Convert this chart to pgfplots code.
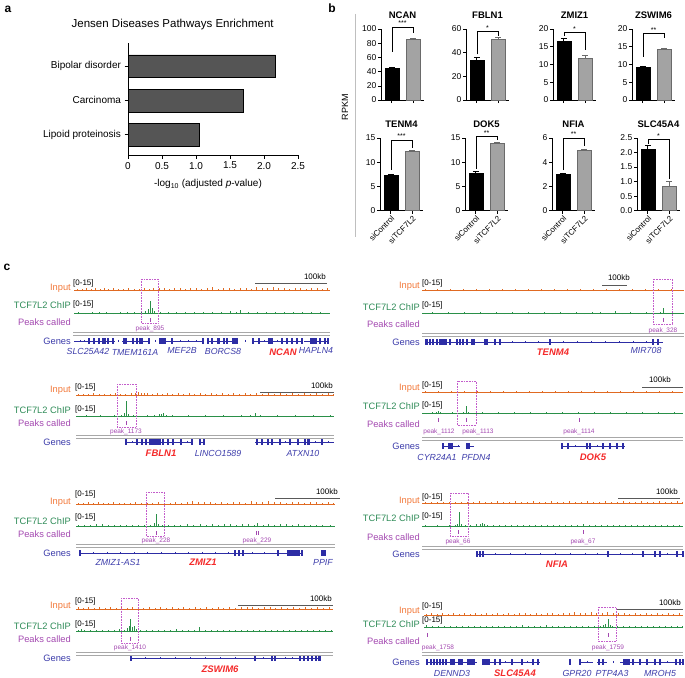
\documentclass[border=0pt]{standalone}
\usepackage{fontspec}
\setmainfont{Liberation Sans}
\usepackage{pgfplots}
\pgfplotsset{compat=1.18}
\definecolor{inpcol}{HTML}{E06A22}
\definecolor{inplab}{HTML}{F27A3C}
\definecolor{chipcol}{HTML}{2A9048}
\definecolor{chiplab}{HTML}{2E8B57}
\definecolor{peakcol}{HTML}{A348B0}
\definecolor{boxcol}{HTML}{C35CCB}
\definecolor{genecol}{HTML}{2D2DA5}
\definecolor{genelab}{HTML}{3C3CAA}
\definecolor{tgtcol}{HTML}{F42A2A}
\definecolor{sepcol}{HTML}{A8A8A8}
\definecolor{barA}{HTML}{555555}
\definecolor{barG}{HTML}{A3A3A3}
\definecolor{barGd}{HTML}{6A6A6A}
\newcommand{\fsL}{\fontsize{9.3}{10}\selectfont}
\newcommand{\fsS}{\fontsize{8}{9}\selectfont}
\newcommand{\fsP}{\fontsize{6.5}{7}\selectfont}
\newcommand{\fsG}{\fontsize{8.8}{10}\selectfont\itshape}
\pgfplotsset{
  trk/.style={scale only axis, height=16pt, ymin=0, ymax=15, hide axis, clip=false, anchor=south west},
  gen/.style={scale only axis, height=8pt, ymin=-1, ymax=1, hide axis, clip=false, anchor=west},
  minib/.style={scale only axis, width=43pt, xmin=0.5, xmax=2.5, ymin=0,
    axis x line*=bottom, axis y line*=left, axis line style={-, line width=0.6pt},
    tick style={black, line width=0.6pt}, tick align=outside, major tick length=3pt,
    xtick={1,2}, anchor=south west, clip=false,
    /pgf/number format/assume math mode=true,
    yticklabel style={font=\fontsize{8.5}{9}\selectfont, inner sep=1.5pt},
    xticklabel style={font=\fontsize{8}{9}\selectfont},
    title style={font=\bfseries\fontsize{9.5}{10}\selectfont, yshift=1pt}},
  barK/.style={ybar, bar width=14pt, fill=black, draw=black, line width=0.5pt,
    error bars/.cd, y dir=plus, y explicit, error bar style={black, line width=0.6pt},
    error mark options={black, line width=0.6pt, mark size=3pt, rotate=90}},
  barW/.style={ybar, bar width=14pt, fill=barG, draw=barGd, line width=0.5pt,
    error bars/.cd, y dir=plus, y explicit, error bar style={barGd, line width=0.6pt},
    error mark options={barGd, line width=0.6pt, mark size=3pt, rotate=90}},
  rot/.style={xticklabels={siControl,siTCF7L2}, xticklabel style={rotate=45, anchor=north east, inner sep=1pt}},
}
\newcommand{\trk}[7]{\begin{axis}[trk, at={(#1pt,-#4pt)}, width=#3pt, xmin=#1, xmax=#2]
 \addplot[line width=1.2pt, #5] coordinates {(#1,0.6)(#2,0.6)};
 \addplot[#5, ycomb, line width=0.7pt] coordinates {#6};
 #7
\end{axis}}
\newcommand{\pk}[1]{\addplot[peakcol, only marks, mark=|, mark size=2pt, mark options={line width=0.6pt}] coordinates {#1};}
\newcommand{\gaxis}[5]{\begin{axis}[gen, at={(#1pt,-#4pt)}, width=#3pt, xmin=#1, xmax=#2] #5 \end{axis}}
\newcommand{\gint}[1]{\addplot[genecol, line width=0.5pt, unbounded coords=jump] coordinates {#1};}
\newcommand{\gexo}[1]{\addplot[genecol, only marks, mark=|, mark size=2.8pt, mark options={line width=1.1pt}] coordinates {#1};}
\newcommand{\gblk}[1]{\addplot[genecol, line width=5.6pt, unbounded coords=jump] coordinates {#1};}
\newcommand{\gstr}[1]{\addplot[genecol, only marks, mark=|, mark size=1.2pt, mark options={line width=0.4pt}] coordinates {#1};}
\newcommand{\stars}[2]{\node[font=\fontsize{7}{7}\selectfont, inner sep=1pt, anchor=south] at (axis cs:1.5,#1) {#2};}
\begin{document}
\begin{tikzpicture}
\useasboundingbox (0pt,0pt) rectangle (685pt,-677pt);
% ---------------- panel a
\begin{axis}[at={(128pt,-155pt)}, anchor=south west, scale only axis, width=170pt, height=112pt,
  xmin=0, xmax=2.5, ymin=0.40, ymax=3.683,
  axis x line*=bottom, axis y line*=left, axis line style={-, line width=0.6pt},
  tick style={black, line width=0.6pt}, tick align=outside, major tick length=3.5pt,
  xtick={0,0.5,1,1.5,2,2.5}, xticklabels={0,0.5,1.0,1.5,2.0,2.5},
  ytick={1,2,3}, yticklabels={Lipoid proteinosis,Carcinoma,Bipolar disorder},
  ticklabel style={font=\fontsize{10}{11}\selectfont}, clip=false]
\addplot[xbar, bar width=22.7pt, fill=barA, draw=black, line width=0.4pt] coordinates {(1.05,1)(1.70,2)(2.17,3)};
\end{axis}
% ---------------- panel b
\begin{axis}[minib, at={(381pt,-100pt)}, height=71pt, ymax=100, ytick={0,20,40,60,80,100}, xticklabels={,,}, title={NCAN}]
\addplot[barK] coordinates {(1,45) +- (0,1.5)};
\addplot[barW] coordinates {(2,85) +- (0,1.5)};
\draw[line width=0.5pt] (axis cs:1,68) |- (axis cs:2,103) -- (axis cs:2,94);
\stars{103}{***}
\end{axis}
\begin{axis}[minib, at={(466pt,-100pt)}, height=71pt, ymax=60, ytick={0,20,40,60}, xticklabels={,,}, title={FBLN1}]
\addplot[barK] coordinates {(1,34) +- (0,2)};
\addplot[barW] coordinates {(2,51) +- (0,2)};
\draw[line width=0.5pt] (axis cs:1,38.5) |- (axis cs:2,57.7) -- (axis cs:2,54.5);
\stars{57.7}{*}
\end{axis}
\begin{axis}[minib, at={(553pt,-100pt)}, height=71pt, ymax=20, ytick={0,5,10,15,20}, xticklabels={,,}, title={ZMIZ1}]
\addplot[barK] coordinates {(1,16.5) +- (0,0.8)};
\addplot[barW] coordinates {(2,11.8) +- (0,0.9)};
\draw[line width=0.5pt] (axis cs:1,18) |- (axis cs:2,19) -- (axis cs:2,14);
\stars{19}{*}
\end{axis}
\begin{axis}[minib, at={(632pt,-100pt)}, height=71pt, ymax=20, ytick={0,5,10,15,20}, xticklabels={,,}, title={ZSWIM6}]
\addplot[barK] coordinates {(1,9.3) +- (0,0.3)};
\addplot[barW] coordinates {(2,14.4) +- (0,0.3)};
\draw[line width=0.5pt] (axis cs:1,12.2) |- (axis cs:2,18.8) -- (axis cs:2,17.5);
\stars{18.8}{**}
\end{axis}
\begin{axis}[minib, rot, at={(380pt,-210.7pt)}, height=72.7pt, ymax=15, ytick={0,5,10,15}, title={TENM4}]
\addplot[barK] coordinates {(1,7.4) +- (0,0.15)};
\addplot[barW] coordinates {(2,12.3) +- (0,0.15)};
\draw[line width=0.5pt] (axis cs:1,8.5) |- (axis cs:2,14.6) -- (axis cs:2,13.0);
\stars{14.6}{***}
\end{axis}
\begin{axis}[minib, rot, at={(465pt,-210.7pt)}, height=72.7pt, ymax=15, ytick={0,5,10,15}, title={DOK5}]
\addplot[barK] coordinates {(1,7.7) +- (0,0.4)};
\addplot[barW] coordinates {(2,14.0) +- (0,0.15)};
\draw[line width=0.5pt] (axis cs:1,8.7) |- (axis cs:2,15.3) -- (axis cs:2,14.5);
\stars{15.3}{**}
\end{axis}
\begin{axis}[minib, rot, at={(552pt,-210.7pt)}, height=72.7pt, ymax=6, ytick={0,2,4,6}, title={NFIA}]
\addplot[barK] coordinates {(1,3.0) +- (0,0.12)};
\addplot[barW] coordinates {(2,5.0) +- (0,0.1)};
\draw[line width=0.5pt] (axis cs:1,3.35) |- (axis cs:2,6.0) -- (axis cs:2,5.3);
\stars{6.0}{**}
\end{axis}
\begin{axis}[minib, rot, at={(637pt,-210.7pt)}, height=72.7pt, ymax=2.5, ytick={0,0.5,1,1.5,2,2.5}, yticklabels={0.0,0.5,1.0,1.5,2.0,2.5}, title={SLC45A4}]
\addplot[barK] coordinates {(1,2.12) +- (0,0.12)};
\addplot[barW] coordinates {(2,0.85) +- (0,0.15)};
\draw[line width=0.5pt] (axis cs:1,2.3) |- (axis cs:2,2.45) -- (axis cs:2,1.1);
\stars{2.45}{*}
\end{axis}
% ---------------- panel c tracks
% NCAN
\trk{74}{330}{256}{291}{inpcol, line width=1.7pt}{(77,2)(82,1.5)(86,3)(91,2)(95,2.5)(100,1.5)(104,3)(108,2)(113,2.5)(118,1.5)(123,2)(128,2.5)(134,2)(139,1.5)(144,2.5)(149,2)(153,3)(159,2.5)(164,3)(169,2)(174,2.5)(180,3)(185,2)(190,2.5)(196,3)(201,2)(207,2.5)(212,3.5)(218,2)(223,2.5)(229,3)(234,2)(240,2.5)(246,3)(251,2)(256,3.5)(262,2.5)(267,3)(273,3.5)(278,2.5)(284,3)(289,2)(295,2.5)(300,3)(306,2)(311,2.5)(317,3)(322,2)(327,2.5)}{}
\trk{74}{330}{256}{314}{chipcol}{(78,1.5)(85,1)(92,2)(99,1.5)(106,2)(113,1)(120,2)(127,1.5)(134,2)(141,1.5)(145,3)(148,5)(150,12)(152,6)(154,2.5)(160,1.5)(168,2)(176,1.5)(185,2)(194,1.5)(203,2)(212,1.5)(221,2)(230,2.5)(236,2)(240,3.5)(248,1.5)(257,2)(266,1.5)(275,2)(284,1.5)(293,2)(302,1.5)(311,2)(320,1.5)(327,1)}{\pk{(150,-5.6)}}
\gaxis{74}{330}{256}{341}{
\gint{(74,0)(115,0)(115,nan)(122,0)(150,0)(150,nan)(159,0)(203,0)(203,nan)(207,0)(238,0)(238,nan)(252,0)(302,0)(302,nan)(304,0)(329,0)}
\gexo{(89,0)(94,0)(99,0)(108,0)(113,0)(133,0)(137,0)(140,0)(142,0)(149,0)(172,0)(203,0)(208,0)(212,0)(224,0)(227,0)(253,0)(259,0)(282,0)(287,0)(292,0)(297,0)(302,0)(320,0)(325,0)(328,0)}
\gblk{(102,0)(106,0)(106,nan)(123,0)(127,0)(127,nan)(159,0)(166,0)(166,nan)(217,0)(220,0)(220,nan)(232,0)(238,0)(238,nan)(268,0)(273,0)(273,nan)(310,0)(317,0)}
\gstr{(80,0)(84,0)(118,0)(155,0)(180,0)(188,0)(196,0)(245,0)(264,0)(277,0)}}
% FBLN1
\trk{76}{334}{258}{396}{inpcol, line width=1.7pt}{(78,1.5)(83,2)(88,1.5)(93,2.5)(99,2)(104,1.5)(110,2)(115,2.5)(120,1.5)(125,2)(131,2.5)(135,3)(138,3.5)(141,3)(144,3)(147,2.5)(152,2)(157,2.5)(162,2)(167,2.5)(172,2)(178,2.5)(183,2)(189,2.5)(194,2)(200,2.5)(205,2)(211,2.5)(216,2)(222,2.5)(228,2)(233,2.5)(239,2)(245,2.5)(250,2)(256,2.5)(262,2)(268,2.5)(274,2)(280,2.5)(286,2)(292,2.5)(298,2)(304,2.5)(310,2)(316,2.5)(322,2)(328,2.5)(333,2)}{}
\trk{76}{334}{258}{417}{chipcol}{(79,1)(86,1.5)(93,1)(100,1.5)(107,1)(114,1.5)(121,2)(124,4)(126,15)(128,3)(133,1.5)(140,1)(147,1.5)(154,2)(159,2.5)(161,3)(163,3.5)(166,2)(172,1.5)(180,1)(188,1.5)(196,1)(205,1.5)(214,1)(223,1.5)(232,1)(241,1.5)(250,1.5)(255,4)(260,1.5)(268,1)(277,1.5)(286,1)(295,1.5)(304,1)(313,1.5)(322,1)(330,1.5)}{\pk{(126,-5.6)}}
\gaxis{76}{334}{258}{442}{
\gint{(126,0)(192,0)(192,nan)(200,0)(204,0)(204,nan)(255,0)(334,0)}
\gexo{(126,0)(137,0)(142,0)(146,0)(163,0)(168,0)(173,0)(181,0)(192,0)(200,0)(204,0)(257,0)(262,0)(268,0)(272,0)(280,0)(290,0)(298,0)(305,0)(322,0)}
\gblk{(149,0)(161,0)(161,nan)(307,0)(310,0)}
\gstr{(132,0)(187,0)(285,0)(315,0)(328,0)}}
% ZMIZ1
\trk{76}{335}{259}{505}{inpcol, line width=1.7pt}{(78,2)(83,1.5)(88,2.5)(93,2)(98,3)(103,2)(108,1.5)(113,2.5)(119,2)(124,1.5)(130,2)(135,2.5)(141,1.5)(147,2)(152,2)(158,2.5)(164,1.5)(170,2)(175,2.5)(181,2)(187,3)(192,3.5)(198,3)(204,2.5)(210,3)(215,2)(221,2.5)(227,2)(233,2.5)(239,3)(245,2)(251,3.5)(256,2.5)(262,3)(268,3.5)(274,2.5)(280,3)(286,2)(292,3)(298,2.5)(304,2)(310,3)(316,2.5)(322,2)(328,2.5)(333,2)}{}
\trk{76}{335}{259}{527}{chipcol}{(78,1.5)(84,2)(90,1.5)(96,2.5)(102,3)(108,2)(114,1.5)(120,2)(126,1.5)(132,2)(138,1.5)(144,2)(150,2)(154,4)(156,12)(158,3)(162,2)(168,1.5)(174,2)(180,1.5)(187,2.5)(193,2)(200,2.5)(206,2)(212,2.5)(218,2)(224,2.5)(230,3)(236,2)(242,2.5)(248,3)(254,2)(257,3.5)(263,2)(268,3)(274,2)(280,2.5)(286,3)(292,2)(298,2.5)(304,1.5)(310,2)(316,1.5)(322,2)(330,1.5)}{\pk{(156,-5.6)(256,-5.6)(258.5,-5.6)}}
\gaxis{76}{335}{259}{553}{
\gint{(80,0)(303,0)(303,nan)(321,0)(326,0)}
\gexo{(80,0)(235,0)(239,0)(243,0)(278,0)(302,0)}
\gblk{(287,0)(300,0)(300,nan)(321,0)(326,0)}
\gstr{(93,0)(107,0)(120,0)(134,0)(147,0)(161,0)(175,0)(188,0)(202,0)(215,0)(228,0)(252,0)(264,0)}}
% ZSWIM6
\trk{76}{333}{257}{610}{inpcol, line width=1.7pt}{(78,2.5)(83,2)(88,2.5)(94,2)(99,2.5)(105,2)(110,2.5)(116,2)(121,2.5)(127,2)(132,2.5)(138,3)(143,2)(149,2.5)(155,2)(160,2.5)(166,2)(172,2.5)(178,2)(183,2.5)(189,2)(195,2.5)(200,2)(206,3)(212,2)(218,3)(223,2)(229,2.5)(235,2)(241,2.5)(247,3)(252,2.5)(258,2)(264,3)(270,2.5)(275,2)(281,2.5)(287,2)(293,3)(299,2)(305,2.5)(311,2)(317,2.5)(323,2)(329,2.5)}{}
\trk{76}{333}{257}{632}{chipcol}{(78,2)(81,3)(84,1.5)(90,2)(96,1.5)(102,2)(108,1.5)(114,2)(119,2.5)(124,2)(127,4)(129,6)(130,12)(132,5)(134,6)(136,3)(140,1.5)(146,2)(152,1.5)(158,2)(164,1.5)(170,2)(176,2.5)(182,2)(188,1.5)(194,2)(199,5)(205,1.5)(211,2)(217,1.5)(223,2)(229,1.5)(235,2)(241,1.5)(247,2)(253,1.5)(259,2)(265,1.5)(271,2)(277,1.5)(283,2)(289,1.5)(295,2)(301,1.5)(307,2)(313,1.5)(319,2)(325,1.5)(331,1.5)}{\pk{(130,-6.5)}}
\gaxis{76}{333}{257}{658}{
\gint{(131,0)(320,0)}
\gexo{(131,0)(255,0)(272,0)(275,0)(300,0)(304,0)(308,0)(312,0)(316,0)}
\gblk{(318,0)(321,0)}
\gstr{(145,0)(160,0)(175,0)(190,0)(205,0)(220,0)(235,0)(263,0)(285,0)(292,0)}}
% TENM4
\trk{422}{684}{262}{291}{inpcol, line width=1.7pt}{(425,1.5)(431,1)(437,1.5)(444,1)(450,1.5)(457,1)(463,1.5)(470,1)(476,1.5)(483,1)(489,1.5)(496,1)(502,1.5)(509,1)(515,1.5)(522,1)(528,1.5)(535,1)(541,1.5)(548,1)(554,1.5)(561,1)(567,1.5)(574,1)(580,1.5)(587,1)(593,1.5)(600,1)(606,1.5)(613,1)(619,1.5)(626,1)(632,1.5)(639,1)(645,1.5)(652,1)(658,1.5)(665,1)(671,1.5)(678,1)}{}
\trk{422}{684}{262}{314}{chipcol}{(425,1)(432,1.5)(440,1)(448,1.5)(456,1)(464,1.5)(472,1)(480,1.5)(488,1)(496,1.5)(504,1)(512,1.5)(520,1)(528,1.5)(536,1)(544,1.5)(552,1)(560,1.5)(568,1)(576,1.5)(584,1)(592,1.5)(600,2)(608,1)(615,2.5)(622,1)(630,1.5)(638,1)(646,1.5)(654,1)(660,1.5)(663,5.5)(666,1)(672,1.5)(680,1)}{\pk{(663,-6)}}
\gaxis{422}{684}{262}{342}{
\gint{(425,0)(663,0)}
\gexo{(430,0)(433,0)(437,0)(450,0)(457,0)(460,0)(463,0)(467,0)(472,0)(474,0)(485,0)(487,0)(495,0)(500,0)(550,0)(653,0)(658,0)}
\gblk{(425,0)(428,0)(428,nan)(439,0)(447,0)}
\gstr{(512,0)(525,0)(538,0)(563,0)(577,0)(591,0)(605,0)(619,0)(633,0)(646,0)}}
% DOK5
\trk{422}{683}{261}{393}{inpcol, line width=1.7pt}{(425,1.5)(432,1)(438,1.5)(445,1)(451,1.5)(458,1)(464,1.5)(471,1)(477,1.5)(484,1)(490,1.5)(497,1)(503,1.5)(510,1)(516,1.5)(523,1)(529,1.5)(536,1)(542,1.5)(549,1)(555,1.5)(562,1)(568,1.5)(575,1)(581,1.5)(588,1)(594,1.5)(601,1)(607,1.5)(614,1)(620,1.5)(627,1)(633,1.5)(640,1)(646,1.5)(653,1)(659,1.5)(666,1)(672,1.5)(679,1)}{}
\trk{422}{683}{261}{414}{chipcol}{(426,1)(432,1.5)(436,2)(438,3)(440,1.5)(446,1)(452,1.5)(458,1)(463,2)(466,7.5)(468,2)(474,1)(482,1.5)(490,1)(498,1.5)(506,1)(514,1.5)(522,1)(530,1.5)(538,1)(546,1.5)(554,1)(562,1.5)(570,1)(578,2)(586,1)(594,1.5)(602,1)(610,1.5)(618,1)(626,1.5)(634,1)(642,1.5)(650,1)(658,1.5)(666,1)(674,1.5)(681,1)}{\pk{(438,-5.6)(466,-5.6)(579,-5.6)}}
\gaxis{422}{683}{261}{446}{
\gint{(443,0)(460,0)(460,nan)(466,0)(474,0)(474,nan)(562,0)(625,0)}
\gexo{(443,0)(562,0)(568,0)(587,0)(590,0)(603,0)(610,0)(617,0)(623,0)}
\gblk{(448,0)(453,0)(453,nan)(466,0)(470,0)}
\gstr{(458,0)(575,0)(597,0)}}
% NFIA
\trk{422}{683}{261}{504}{inpcol, line width=1.7pt}{(425,2)(431,1.5)(437,2)(443,1.5)(449,2)(455,1.5)(461,2)(467,1.5)(473,2)(479,2.5)(485,1.5)(491,2)(497,2.5)(503,1.5)(509,2)(515,2.5)(521,1.5)(527,2)(533,2.5)(539,1.5)(545,2)(551,2.5)(557,1.5)(563,2)(569,2.5)(575,1.5)(581,2)(587,2.5)(593,1.5)(599,2)(605,2.5)(611,1.5)(617,2)(623,2.5)(629,1.5)(635,2)(641,2.5)(647,1.5)(653,2)(659,2.5)(665,1.5)(671,2)(677,2.5)(682,1.5)}{}
\trk{422}{683}{261}{527}{chipcol}{(425,1.5)(431,1)(437,1.5)(443,1)(449,1.5)(455,2)(457,3)(459,14)(461,2.5)(465,1.5)(470,2)(476,2.5)(480,3)(482,3.5)(484,3)(487,2)(493,1.5)(499,2)(505,1.5)(511,2)(517,1.5)(523,2)(529,1.5)(535,2)(541,1.5)(547,2)(553,1.5)(559,2)(565,1.5)(571,2)(577,1.5)(583,2.5)(589,1.5)(595,2)(601,1.5)(607,2)(613,1.5)(619,2)(625,1.5)(631,2)(637,1.5)(643,2)(649,1.5)(655,2)(661,1.5)(667,2)(673,1.5)(679,2)}{\pk{(458,-5)(583,-5)}}
\gaxis{422}{683}{261}{554}{
\gint{(477,0)(684,0)}
\gexo{(477,0)(480,0)(483,0)(608,0)(643,0)(655,0)(660,0)(677,0)(683,0)}
\gstr{(495,0)(510,0)(525,0)(540,0)(555,0)(570,0)(585,0)(597,0)(620,0)(632,0)(667,0)}}
% SLC45A4
\trk{424}{683}{259}{616}{inpcol, line width=1.7pt}{(426,2)(431,2.5)(437,2)(442,2.5)(448,2)(453,2.5)(459,2)(464,2.5)(470,2)(475,3)(481,2)(486,2.5)(492,2)(497,3)(503,2)(508,2.5)(514,2)(519,3)(525,2.5)(530,2)(536,3)(541,2)(547,2.5)(552,3)(558,2)(563,3)(569,2.5)(574,3.5)(580,2.5)(585,3)(591,3.5)(596,3)(602,2.5)(607,3.5)(613,3)(618,2.5)(624,3)(629,2)(635,2.5)(640,2)(646,2.5)(651,2)(657,2.5)(662,2)(668,2.5)(673,2)(679,2.5)}{}
\trk{424}{683}{259}{628}{chipcol}{(426,2.5)(432,1.5)(438,2)(444,1.5)(450,2)(456,1.5)(462,2)(468,1.5)(474,2)(480,1.5)(486,2)(492,1.5)(498,2)(504,1.5)(510,2)(516,1.5)(522,2.5)(528,1.5)(534,2)(540,1.5)(546,2.5)(552,1.5)(558,2)(564,1.5)(570,2)(576,1.5)(582,2)(588,1.5)(594,2)(600,2)(603,3)(605,3.5)(608,8.5)(610,3)(612,2)(617,1.5)(623,2)(629,1.5)(635,2)(641,1.5)(647,2)(653,1.5)(659,2)(665,1.5)(671,2)(677,1.5)(682,2)}{\pk{(427,-7)(608,-7)}}
\gaxis{424}{683}{259}{662}{
\gint{(427,0)(477,0)(477,nan)(482,0)(540,0)(540,nan)(580,0)(593,0)(593,nan)(597,0)(607,0)(607,nan)(620,0)(683,0)}
\gexo{(427,0)(431,0)(434,0)(437,0)(440,0)(443,0)(446,0)(495,0)(500,0)(512,0)(522,0)(533,0)(538,0)(570,0)(580,0)(599,0)(603,0)(633,0)(640,0)(647,0)(655,0)(660,0)(676,0)(680,0)(683,0)}
\gblk{(450,0)(455,0)(455,nan)(458,0)(463,0)(463,nan)(467,0)(475,0)(475,nan)(482,0)(490,0)(490,nan)(623,0)(630,0)}
\gstr{(505,0)(527,0)(587,0)(613,0)(667,0)}}
% ================= annotations (image pixel coordinates)
\begin{scope}[x=1pt,y=-1pt,
  lab/.style={anchor=east, inner sep=0pt, font=\fsL},
  rng/.style={anchor=west, inner sep=0pt, font=\fsS},
  kb/.style={anchor=east, inner sep=0pt, font=\fsS},
  pl/.style={inner sep=0pt, text=peakcol, font=\fsP},
  gn/.style={inner sep=0pt, text=genelab, font=\fsG},
  tg/.style={inner sep=0pt, text=tgtcol, font=\fontsize{9.5}{10}\selectfont\bfseries\itshape},
  sbar/.style={black!65, line width=0.7pt},
  pbox/.style={boxcol, densely dotted, line width=0.6pt},
  sep/.style={sepcol, line width=0.8pt}]
\node[font=\bfseries\fontsize{12}{12}\selectfont] at (8,9) {a};
\node[font=\bfseries\fontsize{12}{12}\selectfont] at (332,8) {b};
\node[font=\bfseries\fontsize{12}{12}\selectfont] at (7,267) {c};
\node[font=\fontsize{11.5}{12}\selectfont] at (172.7,25) {Jensen Diseases Pathways Enrichment};
\node[font=\fontsize{10}{11}\selectfont] at (208,184) {-log\textsubscript{10} (adjusted \textit{p}-value)};
\draw[black!25, line width=0.5pt] (355,14)--(355,237);
\node[rotate=90, font=\fontsize{9}{10}\selectfont] at (345,107) {RPKM};
% NCAN
\node[lab, text=inplab] at (71,288) {Input};
\node[rng] at (73,283) {[0-15]};
\draw[sbar] (255,283)--(327,283);
\node[kb] at (326,277) {100kb};
\node[lab, text=chiplab] at (71,305) {TCF7L2 ChIP};
\node[rng] at (73,304) {[0-15]};
\node[lab, text=peakcol] at (71,322) {Peaks called};
\node[pl] at (150,329) {peak\_895};
\draw[pbox] (141,279) rectangle (158,323);
\draw[sep] (73,332)--(330,332) (73,335)--(330,335);
\node[lab, text=genelab] at (71,341) {Genes};
\node[gn] at (88,351) {SLC25A42};
\node[gn] at (135,352) {TMEM161A};
\node[gn] at (182,350) {MEF2B};
\node[gn] at (223,351) {BORCS8};
\node[tg] at (283,352) {NCAN};
\node[gn] at (316,350) {HAPLN4};
% FBLN1
\node[lab, text=inplab] at (71,390) {Input};
\node[rng] at (75,387) {[0-15]};
\draw[sbar] (260,392)--(334,392);
\node[kb] at (333,386) {100kb};
\node[lab, text=chiplab] at (71,410) {TCF7L2 ChIP};
\node[rng] at (75,409) {[0-15]};
\node[lab, text=peakcol] at (71,423) {Peaks called};
\node[pl] at (126,432) {peak\_1173};
\draw[pbox] (117,384) rectangle (136,427);
\draw[sep] (76,435.5)--(334,435.5) (76,438.5)--(334,438.5);
\node[lab, text=genelab] at (71,442) {Genes};
\node[tg] at (161,453) {FBLN1};
\node[gn] at (218,453) {LINCO1589};
\node[gn] at (303,453) {ATXN10};
% ZMIZ1
\node[lab, text=inplab] at (71,502) {Input};
\node[rng] at (75,494) {[0-15]};
\draw[sbar] (275,498)--(340,498);
\node[kb] at (338,492) {100kb};
\node[lab, text=chiplab] at (71,521) {TCF7L2 ChIP};
\node[rng] at (75,517) {[0-15]};
\node[lab, text=peakcol] at (71,534) {Peaks called};
\node[pl] at (156,541) {peak\_228};
\node[pl] at (257,541) {peak\_229};
\draw[pbox] (146,492) rectangle (164,536);
\draw[sep] (76,544)--(335,544) (76,547)--(335,547);
\node[lab, text=genelab] at (71,553) {Genes};
\node[gn] at (118,562) {ZMIZ1-AS1};
\node[tg] at (203,562) {ZMIZ1};
\node[gn] at (323,562) {PPIF};
% ZSWIM6
\node[lab, text=inplab] at (71,606) {Input};
\node[rng] at (75,601) {[0-15]};
\draw[sbar] (238,605)--(333,605);
\node[kb] at (332,599) {100kb};
\node[lab, text=chiplab] at (71,626) {TCF7L2 ChIP};
\node[rng] at (75,624) {[0-15]};
\node[lab, text=peakcol] at (71,639) {Peaks called};
\node[pl] at (130,648) {peak\_1410};
\draw[pbox] (121,598) rectangle (138,643);
\draw[sep] (76,652)--(333,652) (76,655)--(333,655);
\node[lab, text=genelab] at (71,658) {Genes};
\node[tg] at (220,669) {ZSWIM6};
% TENM4
\node[lab, text=inplab] at (420,286) {Input};
\node[rng] at (422,283) {[0-15]};
\draw[sbar] (602,285)--(627,285);
\node[kb] at (630,278) {100kb};
\node[lab, text=chiplab] at (420,307) {TCF7L2 ChIP};
\node[rng] at (422,305) {[0-15]};
\node[lab, text=peakcol] at (420,324) {Peaks called};
\node[pl] at (663,331) {peak\_328};
\draw[pbox] (653,279) rectangle (672,324);
\draw[sep] (422,333)--(684,333) (422,336)--(684,336);
\node[lab, text=genelab] at (420,342) {Genes};
\node[tg] at (553,352) {TENM4};
\node[gn] at (646,350) {MIR708};
% DOK5
\node[lab, text=inplab] at (420,388) {Input};
\node[rng] at (422,385) {[0-15]};
\draw[sbar] (642,387)--(683,387);
\node[kb] at (671,380) {100kb};
\node[lab, text=chiplab] at (420,406) {TCF7L2 ChIP};
\node[rng] at (422,405) {[0-15]};
\node[lab, text=peakcol] at (420,424) {Peaks called};
\node[pl] at (439,432) {peak\_1112};
\node[pl] at (478,432) {peak\_1113};
\node[pl] at (579,432) {peak\_1114};
\draw[pbox] (457,381) rectangle (476,425);
\draw[sep] (422,437)--(683,437) (422,440)--(683,440);
\node[lab, text=genelab] at (420,446) {Genes};
\node[gn] at (437,457) {CYR24A1};
\node[gn] at (476,457) {PFDN4};
\node[tg] at (593,457) {DOK5};
% NFIA
\node[lab, text=inplab] at (420,501) {Input};
\node[rng] at (422,497) {[0-15]};
\draw[sbar] (618,498)--(680,498);
\node[kb] at (678,492) {100kb};
\node[lab, text=chiplab] at (420,518) {TCF7L2 ChIP};
\node[rng] at (422,516) {[0-15]};
\node[lab, text=peakcol] at (420,537) {Peaks called};
\node[pl] at (458,542) {peak\_66};
\node[pl] at (583,542) {peak\_67};
\draw[pbox] (450,493) rectangle (468,536);
\draw[sep] (422,546)--(683,546) (422,549)--(683,549);
\node[lab, text=genelab] at (420,554) {Genes};
\node[tg] at (557,564) {NFIA};
% SLC45A4
\node[lab, text=inplab] at (420,611) {Input};
\node[rng] at (422,606) {[0-15]};
\draw[sbar] (617,609)--(683,609);
\node[kb] at (681,603) {100kb};
\node[lab, text=chiplab] at (420,624) {TCF7L2 ChIP};
\node[rng] at (422,620) {[0-15]};
\node[lab, text=peakcol] at (420,641) {Peaks called};
\node[pl] at (438,648) {peak\_1758};
\node[pl] at (608,648) {peak\_1759};
\draw[pbox] (598,607) rectangle (616,641);
\draw[sep] (422,652)--(683,652) (422,655)--(683,655);
\node[lab, text=genelab] at (420,662) {Genes};
\node[gn] at (452,673) {DENND3};
\node[tg] at (515,673) {SLC45A4};
\node[gn] at (577,673) {GPR20};
\node[gn] at (612,673) {PTP4A3};
\node[gn] at (660,673) {MROH5};
\end{scope}
\end{tikzpicture}
\end{document}
